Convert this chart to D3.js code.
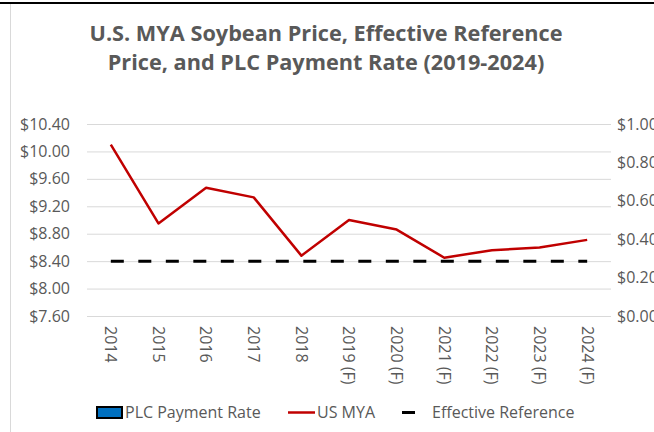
<!DOCTYPE html>
<html>
<head>
<meta charset="utf-8">
<script src="https://cdn.jsdelivr.net/npm/d3@7"></script>
<style>
	body { margin: 0; background: #fff; }
	svg { display: block; font-family: "Open Sans", Lato, sans-serif; }
</style>
</head>
<body>
<svg id="chart" width="654" height="432"></svg>
<script>
var years = ['2014', '2015', '2016', '2017', '2018', '2019 (F)', '2020 (F)', '2021 (F)', '2022 (F)', '2023 (F)', '2024 (F)'];
var usMya = [10.10, 8.95, 9.47, 9.33, 8.48, 9.00, 8.86, 8.45, 8.56, 8.60, 8.71];
var effectiveRef = [8.40, 8.40, 8.40, 8.40, 8.40, 8.40, 8.40, 8.40, 8.40, 8.40, 8.40];
var plcRate = [0, 0, 0, 0, 0, 0, 0, 0, 0, 0, 0];
var leftTicks = [7.60, 8.00, 8.40, 8.80, 9.20, 9.60, 10.00, 10.40];
var rightTicks = [0, 0.2, 0.4, 0.6, 0.8, 1.0];

var svg = d3.select('#chart'),
	plot = {left: 87, right: 611, top: 124, bottom: 316},
	textColor = '#595959',
	labelSize = '16px';

// chart frame (cropped screenshot)
svg.append('line').attr('x1', 10.5).attr('x2', 10.5).attr('y1', 4).attr('y2', 432)
	.style('stroke', '#d9d9d9');
svg.append('line').attr('x1', 0).attr('x2', 654).attr('y1', 3).attr('y2', 3)
	.style('stroke', '#000').style('stroke-width', 2);

var x = d3.scaleBand().domain(years).range([plot.left, plot.right]);
var y = d3.scaleLinear().domain([7.60, 10.40]).range([plot.bottom, plot.top]);
var y2 = d3.scaleLinear().domain([0, 1.0]).range([plot.bottom, plot.top]);
var cx = function (d) { return x(d) + x.bandwidth() / 2; };

// title
svg.append('text').attr('x', 326).attr('y', 41).attr('text-anchor', 'middle')
	.style('font-size', '21.7px').style('font-weight', 'bold').style('fill', textColor)
	.text('U.S. MYA Soybean Price, Effective Reference');
svg.append('text').attr('x', 326).attr('y', 70).attr('text-anchor', 'middle')
	.style('font-size', '21.7px').style('font-weight', 'bold').style('fill', textColor)
	.text('Price, and PLC Payment Rate (2019-2024)');

// gridlines + left axis
var yAxis = d3.axisLeft(y).tickValues(leftTicks).tickSize(-(plot.right - plot.left)).tickPadding(17)
	.tickFormat(function (d) { return '$' + d.toFixed(2); });
var gy = svg.append('g').attr('transform', 'translate(' + plot.left + ',0)').call(yAxis);
gy.select('.domain').remove();
gy.selectAll('.tick line').style('stroke', '#d9d9d9');
gy.selectAll('.tick text').style('font-size', labelSize).style('fill', textColor).style('font-family', 'Open Sans');

// right axis
var yAxis2 = d3.axisRight(y2).tickValues(rightTicks).tickSize(0).tickPadding(6)
	.tickFormat(function (d) { return '$' + d.toFixed(2); });
var gy2 = svg.append('g').attr('transform', 'translate(' + plot.right + ',0)').call(yAxis2);
gy2.select('.domain').remove();
gy2.selectAll('.tick text').style('font-size', labelSize).style('fill', textColor).style('font-family', 'Open Sans');

// category axis, vertical labels
var xAxis = d3.axisBottom(x).tickSize(0).tickPadding(0);
var gx = svg.append('g').attr('transform', 'translate(0,' + plot.bottom + ')').call(xAxis);
gx.select('.domain').remove();
gx.selectAll('.tick text')
	.attr('transform', 'translate(0,10) rotate(90)')
	.attr('x', 0).attr('y', 0).attr('dy', '0.35em')
	.attr('text-anchor', 'start')
	.style('font-size', labelSize).style('fill', textColor).style('font-family', 'Open Sans');

// PLC payment rate bars (all zero)
svg.append('g').selectAll('rect').data(plcRate).enter().append('rect')
	.attr('x', function (d, i) { return x(years[i]) + x.bandwidth() * 0.2; })
	.attr('width', x.bandwidth() * 0.6)
	.attr('y', function (d) { return y2(d); })
	.attr('height', function (d) { return plot.bottom - y2(d); })
	.style('fill', '#0070c0');

// effective reference
var refLine = d3.line().x(function (d, i) { return cx(years[i]); }).y(function (d) { return y(d); });
svg.append('path').datum(effectiveRef).attr('d', refLine)
	.style('fill', 'none').style('stroke', '#000').style('stroke-width', 3)
	.style('stroke-dasharray', '13,14.5');

// US MYA
var myaLine = d3.line().x(function (d, i) { return cx(years[i]); }).y(function (d) { return y(d); });
svg.append('path').datum(usMya).attr('d', myaLine)
	.style('fill', 'none').style('stroke', '#c00000').style('stroke-width', 2.5)
	.style('stroke-linejoin', 'round');

// legend
var lg = svg.append('g').style('font-size', labelSize).style('fill', textColor);
lg.append('rect').attr('x', 97).attr('y', 407).attr('width', 25).attr('height', 11)
	.style('fill', '#0070c0').style('stroke', '#000').style('stroke-width', 2);
lg.append('text').attr('x', 125).attr('y', 418).text('PLC Payment Rate');
lg.append('line').attr('x1', 288).attr('x2', 315).attr('y1', 412.5).attr('y2', 412.5)
	.style('stroke', '#c00000').style('stroke-width', 2.5);
lg.append('text').attr('x', 317).attr('y', 418).text('US MYA');
lg.append('line').attr('x1', 402).attr('x2', 415).attr('y1', 412.5).attr('y2', 412.5)
	.style('stroke', '#000').style('stroke-width', 3);
lg.append('text').attr('x', 432).attr('y', 418).text('Effective Reference');
</script>
</body>
</html>
